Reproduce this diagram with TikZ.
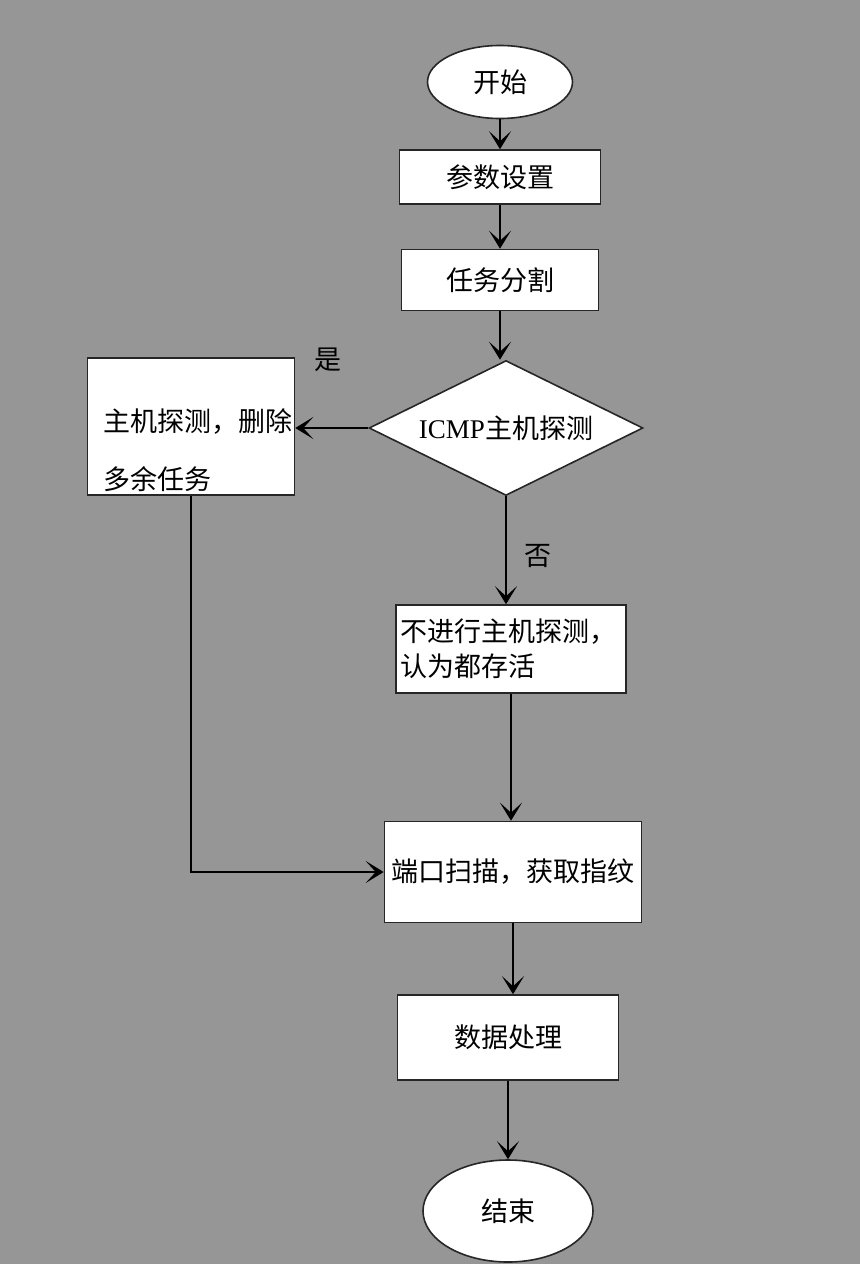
\documentclass[tikz,border=0pt]{standalone}
\usepackage{fontspec}
\setmainfont{Liberation Serif}
\newfontfamily\cjk{Noto Sans CJK SC}
\usetikzlibrary{shapes.geometric,arrows.meta}
\definecolor{bggray}{RGB}{150,150,150}

\begin{document}
\begin{tikzpicture}[x=0.5pt, y=0.5pt, every node/.style={font=\cjk\fontsize{13.5}{16}\selectfont}, >={Stealth[length=9pt, width=11pt, inset=5pt]},
	procbox/.style={draw=black!85, fill=white, line width=0.8pt, rectangle, inner sep=2pt},
	termnode/.style={draw=black!85, fill=white, line width=0.8pt, ellipse, inner sep=0pt},
	flow/.style={->, line width=0.9pt}]
	\fill[bggray] (0,0) rectangle (860,-1264);
	\useasboundingbox (0,0) rectangle (860,-1264);
	\node[termnode, minimum width=72.5pt, minimum height=36.5pt] (start) at (500,-82) {开始};
	\node[procbox, minimum width=100.5pt, minimum height=27pt] (param) at (500,-177) {参数设置};
	\node[procbox, minimum width=98.5pt, minimum height=30.5pt] (split) at (500,-280) {任务分割};
	\node[diamond, aspect=2.03, draw=black!85, fill=white, line width=0.8pt, inner sep=0pt, minimum width=137pt, minimum height=67.5pt] (icmp) at (506,-428) {{\rmfamily ICMP}主机探测};
	\node[procbox, minimum width=103.5pt, minimum height=68.5pt] (hostbox) at (191,-426.5) {};
	\node[anchor=west, align=left] (hosttxt) at (96,-450) {主机探测，删除\\[13pt]多余任务};
	\node[procbox, minimum width=115pt, minimum height=44pt, text width=111pt, align=left] (nocheck) at (511,-649) {不进行主机探测，\\[1.5pt]认为都存活};
	\node[procbox, minimum width=128.5pt, minimum height=50.5pt] (scan) at (513,-872) {端口扫描，获取指纹};
	\node[procbox, minimum width=110.5pt, minimum height=42.5pt] (data) at (508,-1037.5) {数据处理};
	\node[termnode, minimum width=85pt, minimum height=51pt] (finish) at (508,-1211) {结束};
	\node (yes) at (328,-360) {是};
	\node (no) at (538,-556) {否};
	\draw[flow] (start.south) -- (start.south |- param.north);
	\draw[flow] (param.south) -- (param.south |- split.north);
	\draw[flow] (split.south) -- (split.south |- icmp.north);
	\draw[flow] (icmp.west) -- (hostbox.east |- icmp.west);
	\draw[flow] (icmp.south) -- (icmp.south |- nocheck.north);
	\draw[flow] (nocheck.south) -- (nocheck.south |- scan.north);
	\draw[flow] (hostbox.south) -- (hostbox.south |- scan.west) -- (scan.west);
	\draw[flow] (scan.south) -- (scan.south |- data.north);
	\draw[flow] (data.south) -- (data.south |- finish.north);
\end{tikzpicture}
\end{document}
